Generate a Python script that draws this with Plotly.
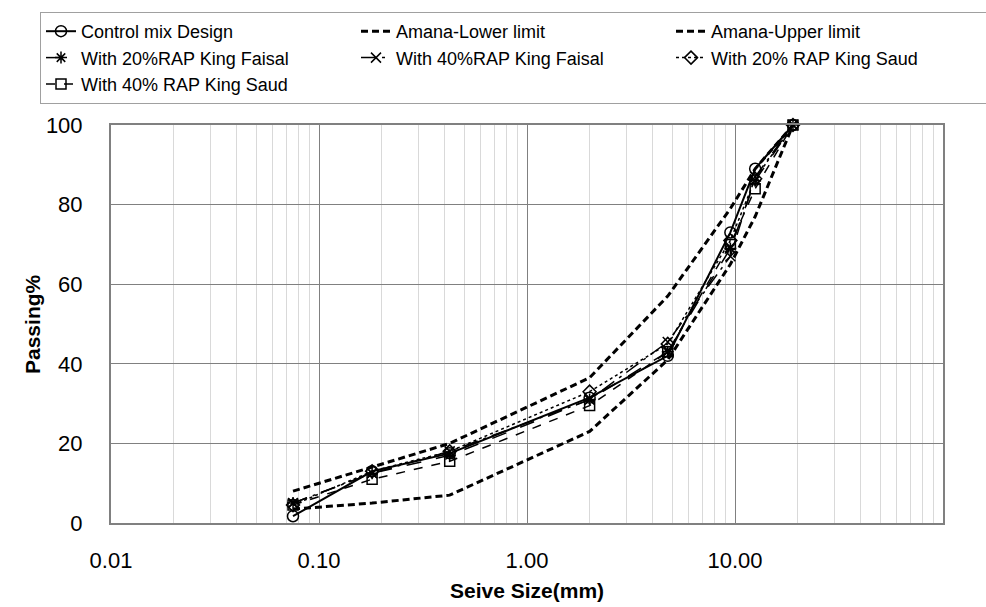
import plotly.graph_objects as go

# ---- data ----
sieve_sizes = [0.075, 0.18, 0.425, 2.0, 4.75, 9.5, 12.5, 19.0]
control_mix = [1.7, 13.0, 17.5, 31.5, 42.0, 73.0, 89.0, 100.0]
lower_limit = [3.5, 5.0, 7.0, 23.0, 41.0, 65.0, 77.0, 100.0]
upper_limit = [8.0, 14.0, 20.0, 36.5, 57.0, 79.0, 89.0, 100.0]
rap20_king_faisal = [5.0, 12.5, 17.0, 31.0, 43.0, 69.0, 86.0, 100.0]
rap40_king_faisal = [5.0, 12.5, 18.0, 31.0, 45.5, 67.0, 87.0, 100.0]
rap20_king_saud = [4.5, 13.0, 18.0, 33.0, 45.0, 71.0, 86.5, 100.0]
rap40_king_saud = [4.5, 11.0, 15.5, 29.5, 43.0, 70.0, 84.0, 100.0]

x_tick_vals = [0.01, 0.1, 1, 10, 100]
x_tick_text = ["0.01", "0.10", "1.00", "10.00", ""]
x_minor_vals = [m * d for d in [0.01, 0.1, 1, 10] for m in range(2, 10)]
y_tick_vals = [0, 20, 40, 60, 80, 100]

W, H = 986, 607
L, R, T, B = 111, 43, 125, 84
pw, ph = W - L - R, H - T - B

fig = go.Figure()

def add(name, y, dash, width, symbol=None, msize=10):
    mode = "lines+markers" if symbol else "lines"
    fig.add_trace(go.Scatter(
        x=sieve_sizes, y=y, name=name, mode=mode, cliponaxis=False,
        line=dict(color="black", width=width, dash=dash),
        marker=dict(symbol=symbol or "circle", size=msize, color="black",
                    line=dict(color="black", width=1.5)),
    ))

add("Control mix Design", control_mix, "solid", 2, "circle-open", 11)
add("Amana-Lower limit", lower_limit, "7px,4px", 3)
add("Amana-Upper limit", upper_limit, "7px,4px", 3)
add("With 20%RAP King Faisal", rap20_king_faisal, "longdash", 1.5, "asterisk-open", 10)
add("With 40%RAP King Faisal", rap40_king_faisal, "longdashdot", 1.5, "x-thin-open", 10)
add("With 20% RAP King Saud", rap20_king_saud, "dot", 1.5, "diamond-open", 10)
add("With 40% RAP King Saud", rap40_king_saud, "dash", 1.5, "square-open", 10)

fig.update_layout(
    width=W, height=H,
    margin=dict(l=L, r=R, t=T, b=B, autoexpand=False),
    paper_bgcolor="white", plot_bgcolor="white",
    font=dict(family="Liberation Sans, Arial, sans-serif", size=22, color="black"),
    showlegend=True,
    legend=dict(
        orientation="h",
        x=(40 - L) / pw, xanchor="left",
        y=(H - B - 12) / ph, yanchor="top",
        entrywidth=270, entrywidthmode="pixels",
        bordercolor="#a0a0a0", borderwidth=1,
        bgcolor="rgba(255,255,255,0)",
        font=dict(family="Liberation Sans, Arial, sans-serif", size=18),
        traceorder="normal",
    ),
    xaxis=dict(
        type="log", range=[-2, 2],
        tickmode="array", tickvals=x_tick_vals, ticktext=x_tick_text,
        showgrid=True, gridcolor="#808080", gridwidth=1,
        minor=dict(tickmode="array", tickvals=x_minor_vals, showgrid=True,
                   gridcolor="#d9d9d9", gridwidth=1, ticks=""),
        showline=True, mirror=True, linecolor="#808080", linewidth=2,
        ticks="", ticklabelstandoff=17, zeroline=False,
        tickfont=dict(size=22),
    ),
    yaxis=dict(
        range=[0, 100], tickmode="array", tickvals=y_tick_vals,
        showgrid=True, gridcolor="#808080", gridwidth=1,
        showline=True, mirror=True, linecolor="#808080", linewidth=2,
        ticks="", ticklabelstandoff=22, zeroline=False,
        tickfont=dict(size=22),
    ),
    annotations=[
        dict(text="<b>Passing%</b>", xref="paper", yref="paper",
             x=(32 - L) / pw, y=0.5, xanchor="center", yanchor="middle",
             textangle=-90, showarrow=False, font=dict(size=21)),
        dict(text="<b>Seive Size(mm)</b>", xref="paper", yref="paper",
             x=0.5, y=(H - B - 590) / ph, xanchor="center", yanchor="middle",
             showarrow=False, font=dict(size=21)),
    ],
)

fig.write_html("out.html")
